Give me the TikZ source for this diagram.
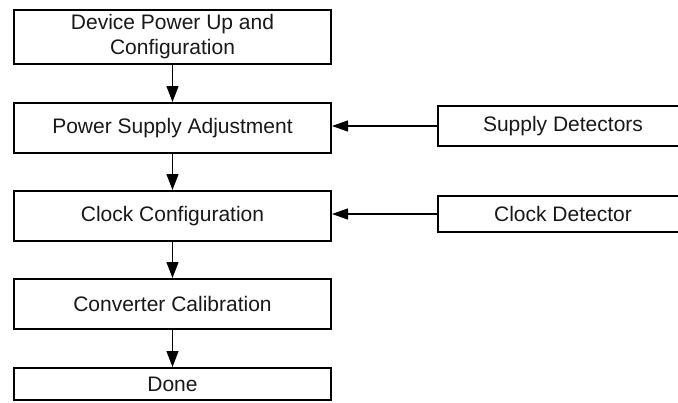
\documentclass[tikz,border=0pt]{standalone}
\usepackage{fontspec}
\setmainfont{Liberation Sans}
\usetikzlibrary{arrows.meta}
\begin{document}
\begin{tikzpicture}[x=1pt,y=-1pt,
  box/.style={draw=black, line width=2pt, fill=white, rectangle, inner sep=0pt,
    align=center, font=\fontsize{21}{25}\selectfont, text=black!90},
  lbox/.style={box, minimum width=317pt},
  rbox/.style={box, minimum width=251pt},
  flow/.style={draw=black, line width=1.2pt, -{Triangle[length=16pt,width=12pt]}},
  side/.style={draw=black, line width=1.2pt, -{Triangle[length=16pt,width=11pt]}}]
\useasboundingbox (0,0) rectangle (678,402);
\begin{scope}
\clip (0,0) rectangle (678,402);
\node[lbox, minimum height=54pt] (dev) at (172.5,37) {Device Power Up and\\Configuration};
\node[lbox, minimum height=50pt] (psa) at (172.5,128) {Power Supply Adjustment};
\node[lbox, minimum height=50pt] (clk) at (172.5,216) {Clock Configuration};
\node[lbox, minimum height=50pt] (cal) at (172.5,304) {Converter Calibration};
\node[lbox, minimum height=32pt] (done) at (172.5,384) {Done};
\node[rbox, minimum height=40pt] (sd) at (563,126) {Supply Detectors};
\node[rbox, minimum height=36pt] (cd) at (563,214) {Clock Detector};
\draw[flow] (dev.south) -- (psa.north);
\draw[flow] (psa.south) -- (clk.north);
\draw[flow] (clk.south) -- (cal.north);
\draw[flow] (cal.south) -- (done.north);
\draw[side] (sd.west) -- (sd.west -| psa.east);
\draw[side] (cd.west) -- (cd.west -| clk.east);
\end{scope}
\end{tikzpicture}
\end{document}
